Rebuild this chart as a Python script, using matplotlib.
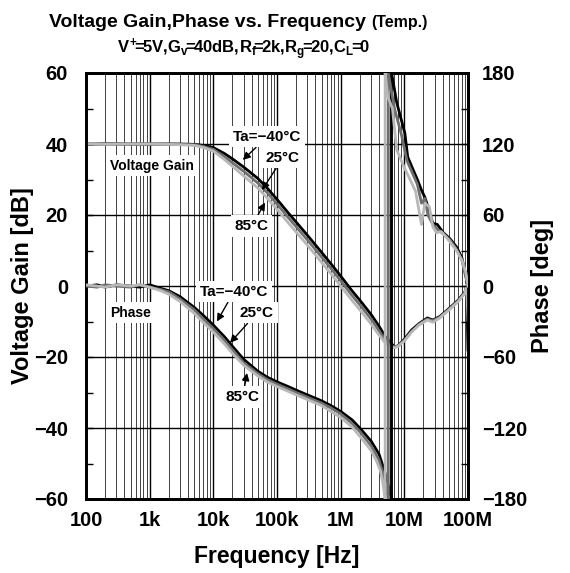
import matplotlib
matplotlib.use("Agg")
import matplotlib.pyplot as plt
from matplotlib.ticker import FixedLocator, FixedFormatter, LogLocator, NullFormatter

plt.rcParams['font.family'] = ['Liberation Sans', 'DejaVu Sans']
plt.rcParams['font.weight'] = 'bold'
plt.rcParams['axes.unicode_minus'] = True
plt.rcParams['mathtext.fontset'] = 'custom'
plt.rcParams['mathtext.rm'] = 'Liberation Sans:bold'
plt.rcParams['mathtext.it'] = 'Liberation Sans:bold'
plt.rcParams['mathtext.bf'] = 'Liberation Sans:bold'
plt.rcParams['mathtext.sf'] = 'Liberation Sans:bold'

# ---------------- data ----------------
x_ticks = [1e2, 1e3, 1e4, 1e5, 1e6, 1e7, 1e8]
x_tick_labels = ["100", "1k", "10k", "100k", "1M", "10M", "100M"]
gain_ticks = [-60, -40, -20, 0, 20, 40, 60]
phase_ticks = [-180, -120, -60, 0, 60, 120, 180]

freq_gain = [100, 200, 500, 1e3, 2e3, 3e3, 5e3, 7e3, 1e4, 1.5e4, 2e4, 3e4, 5e4, 7e4,
             1e5, 1.5e5, 2e5, 3e5, 5e5, 7e5, 1e6, 1.5e6, 2e6, 3e6, 4e6, 5e6, 6e6, 7e6,
             8e6, 1e7, 1.3e7, 1.7e7, 2.3e7, 2.8e7, 3.6e7, 5e7, 7e7, 9e7, 9.5e7, 1e8]
gain_m40 = [40.0, 40.1, 40.0, 40.0, 40.0, 40.0, 39.9, 39.6, 39.0, 37.3, 35.8, 33.5, 30.3, 27.6,
            24.4, 20.6, 18.0, 14.3, 9.5, 6.3, 2.8, -1.3, -4.0, -8.0, -11.3, -14.2, -15.8, -17.2,
            -16.8, -15.0, -12.4, -10.6, -9.0, -9.6, -8.6, -6.4, -4.0, -1.6, 0.6, -18.0]
gain_25 = [40.0, 40.0, 40.0, 40.0, 40.0, 39.9, 39.8, 39.3, 38.5, 36.4, 34.7, 32.3, 29.0, 26.3,
           23.1, 19.3, 16.7, 13.0, 8.2, 5.0, 1.5, -2.6, -5.3, -9.3, -12.6, -15.3, -16.6, -17.2,
           -16.9, -15.3, -12.8, -10.8, -9.3, -9.8, -8.8, -6.6, -4.2, -1.8, 0.3, -6.0]
gain_85 = [40.1, 40.0, 40.0, 40.0, 39.9, 39.8, 39.6, 39.0, 38.0, 35.6, 33.7, 31.0, 27.6, 24.8,
           21.6, 17.8, 15.2, 11.5, 6.7, 3.5, 0.0, -4.0, -6.7, -10.7, -13.8, -16.0, -17.0, -17.4,
           -17.0, -15.5, -13.0, -11.0, -9.6, -10.2, -9.0, -6.8, -4.4, -2.0, 0.5, -10.0]

freq_ph_m40 = [100, 150, 200, 300, 500, 700, 1e3, 1.5e3, 2e3, 3e3, 5e3, 7e3, 1e4, 1.5e4, 2e4,
               3e4, 5e4, 7e4, 1e5, 1.5e5, 2e5, 3e5, 5e5, 7e5, 1e6, 1.5e6, 2e6, 3e6, 4e6, 5e6,
               5.8e6, 6.3e6, 6.3e6, 7.6e6, 1.02e7, 1.13e7, 1.38e7, 1.6e7, 1.86e7, 2.1e7, 2.35e7,
               2.8e7, 3.3e7, 4.1e7, 5.2e7, 6.6e7, 8e7, 9.3e7, 1e8]
phase_m40 = [0, 1, -1, 1, 0, -1, 1, -2, -4, -9, -18, -25, -33, -43, -51,
             -62, -72, -77, -81, -85, -88, -92, -97, -101, -106, -113, -120, -131, -142, -158,
             -172, -180, 180, 155, 129, 109, 98, 90, 81, 75, 67,
             53, 52, 45, 40, 33, 24, 8, 0]

freq_ph_25 = [100, 150, 200, 300, 500, 700, 1e3, 1.5e3, 2e3, 3e3, 5e3, 7e3, 1e4, 1.5e4, 2e4,
              3e4, 5e4, 7e4, 1e5, 1.5e5, 2e5, 3e5, 5e5, 7e5, 1e6, 1.5e6, 2e6, 3e6, 4e6, 4.7e6,
              5.3e6, 5.6e6, 5.6e6, 7e6, 9e6, 1.1e7, 1.35e7, 1.6e7, 1.86e7, 2.1e7, 2.35e7,
              2.8e7, 3.3e7, 4.1e7, 5.2e7, 6.6e7, 8e7, 9.3e7, 1e8]
phase_25 = [0, -1, 1, 0, -1, 1, -1, -3, -5, -11, -20, -28, -36, -46, -54,
            -65, -74, -79, -83, -87, -90, -94, -99, -103, -108, -116, -123, -135, -147, -160,
            -173, -180, 180, 150, 128, 106, 95, 86, 70, 74, 60,
            52, 48, 44, 39, 31, 22, 7, 0]

freq_ph_85 = [100, 150, 200, 300, 500, 700, 1e3, 1.5e3, 2e3, 3e3, 5e3, 7e3, 1e4, 1.5e4, 2e4,
              3e4, 5e4, 7e4, 1e5, 1.5e5, 2e5, 3e5, 5e5, 7e5, 1e6, 1.5e6, 2e6, 3e6, 3.6e6, 4.2e6,
              4.6e6, 5.0e6, 5.0e6, 5.5e6, 6.5e6, 7.6e6, 1e7, 1.23e7, 1.5e7, 1.86e7, 2.1e7, 2.47e7,
              2.8e7, 3.2e7, 3.8e7, 4.6e7, 6.6e7, 8e7, 9.3e7, 1e8]
phase_85 = [1, 0, -1, 1, 0, 1, -1, -4, -7, -13, -23, -31, -39, -49, -57,
            -67, -76, -81, -85, -89, -92, -96, -101, -106, -111, -119, -127, -139, -147, -156,
            -166, -180, 180, 160, 150, 115, 100, 90, 80, 52, 70, 67,
            50, 45, 46, 41, 30, 22, 11, 0]

col_m40 = '#000000'
col_25 = '#6e6e6e'
col_85 = '#b8b8b8'

# ---------------- figure ----------------
fig = plt.figure(figsize=(5.7, 5.73), dpi=100)
ax = fig.add_axes([86/570, 1-499/573, 382/570, 426/573])
ax.set_xscale('log')
ax.set_xlim(1e2, 1e8)
ax.set_ylim(-60, 60)
ax2 = ax.twinx()
ax2.set_ylim(-180, 180)
ax2.set_xlim(1e2, 1e8)

ax.xaxis.set_major_locator(FixedLocator(x_ticks))
ax.xaxis.set_major_formatter(FixedFormatter(x_tick_labels))
ax.xaxis.set_minor_locator(LogLocator(base=10, subs=range(2, 10), numticks=20))
ax.xaxis.set_minor_formatter(NullFormatter())
ax.set_yticks(gain_ticks)
ax.set_yticklabels([str(v).replace('-', '\u2212') for v in gain_ticks])
ax.yaxis.set_minor_locator(FixedLocator([-50, -30, -10, 10, 30, 50]))
ax2.set_yticks(phase_ticks)
ax2.set_yticklabels([str(v).replace('-', '\u2212') for v in phase_ticks])
ax2.yaxis.set_minor_locator(FixedLocator([-150, -90, -30, 30, 90, 150]))

ax.grid(which='major', axis='both', color='black', lw=1.0, zorder=0)
ax.grid(which='minor', axis='x', color='#222222', lw=0.6, zorder=0)
ax.set_axisbelow(True)

ax.tick_params(axis='x', which='both', length=0, pad=9, labelsize=14.5)
ax.tick_params(axis='y', which='both', direction='in', length=5, width=1, pad=13,
               labelsize=14.5, right=False)
ax2.tick_params(axis='y', which='both', direction='in', length=5, width=1, pad=10,
                labelsize=14.5)
for lab in ax.get_xticklabels() + ax.get_yticklabels() + ax2.get_yticklabels():
    lab.set_fontweight('bold')
for sp in list(ax.spines.values()) + list(ax2.spines.values()):
    sp.set_linewidth(2.0)

# gain curves
ax.plot(freq_gain, gain_m40, color=col_m40, lw=2.0, zorder=3)
ax.plot(freq_gain, gain_25, color=col_25, lw=2.0, zorder=3)
ax.plot(freq_gain, gain_85, color=col_85, lw=2.0, zorder=3)
# phase curves
ax2.plot(freq_ph_m40, phase_m40, color=col_m40, lw=2.0, zorder=3)
ax2.plot(freq_ph_25, phase_25, color=col_25, lw=2.0, zorder=3)
ax2.plot(freq_ph_85, phase_85, color=col_85, lw=2.0, zorder=3)

box = dict(facecolor='white', edgecolor='none', pad=2.5)
arrow = dict(arrowstyle='-|>', color='black', lw=1.0, mutation_scale=11, shrinkA=0, shrinkB=0)

ax.text(0.063, 0.782, "Voltage Gain", transform=ax.transAxes, ha='left', va='center',
        fontsize=10, fontweight='bold', bbox=box, zorder=4)
ax.text(0.063, 0.437, "Phase", transform=ax.transAxes, ha='left', va='center',
        fontsize=10, fontweight='bold', bbox=box, zorder=4)

# gain annotations
ax.annotate("Ta=\u221240\u00b0C", xy=(2.9e4, 35.5), xytext=(7.0e4, 42.0), ha='center', va='center',
            fontsize=11, fontweight='bold', bbox=box, arrowprops=arrow, zorder=5)
ax.annotate("25\u00b0C", xy=(5.8e4, 27.0), xytext=(1.24e5, 36.1), ha='center', va='center',
            fontsize=11, fontweight='bold', bbox=box, arrowprops=arrow, zorder=5)
ax.annotate("85\u00b0C", xy=(6.5e4, 23.5), xytext=(4.0e4, 16.9), ha='center', va='center',
            fontsize=11, fontweight='bold', bbox=box, arrowprops=arrow, zorder=5)
# phase annotations
ax2.annotate("Ta=\u221240\u00b0C", xy=(1.14e4, -30), xytext=(2.1e4, -5), ha='center', va='center',
             fontsize=11, fontweight='bold', bbox=box, arrowprops=arrow, zorder=5)
ax2.annotate("25\u00b0C", xy=(1.83e4, -48), xytext=(4.85e4, -22.8), ha='center', va='center',
             fontsize=11, fontweight='bold', bbox=box, arrowprops=arrow, zorder=5)
ax2.annotate("85\u00b0C", xy=(3.38e4, -73.5), xytext=(2.9e4, -93.8), ha='center', va='center',
             fontsize=11, fontweight='bold', bbox=box, arrowprops=arrow, zorder=5)

# titles and labels
fig.text(49/570, 1-27/573, "Voltage Gain,Phase vs. Frequency", fontsize=14, fontweight='bold',
         ha='left', va='baseline')
fig.text(371/570, 1-27/573, "(Temp.)", fontsize=11.5, fontweight='bold', ha='left', va='baseline')
fig.text(117/570, 1-53/573,
         r"$V^{+}\!\!=\!\!5V,\!G_{v}\!\!=\!\!40dB,\!R_{f}\!\!=\!\!2k,\!R_{g}\!\!=\!\!20,\!C_{L}\!\!=\!\!0$",
         fontsize=12, ha='left', va='baseline')
fig.text(23/570, 1-286/573, "Voltage Gain [dB]", rotation=90, fontsize=17, fontweight='bold',
         ha='center', va='center')
fig.text(543/570, 1-286/573, "Phase [deg]", rotation=90, fontsize=17, fontweight='bold',
         ha='center', va='center')
fig.text(277/570, 1-556/573, "Frequency [Hz]", fontsize=16.5, fontweight='bold',
         ha='center', va='center')

fig.savefig("out.png", dpi=100)
